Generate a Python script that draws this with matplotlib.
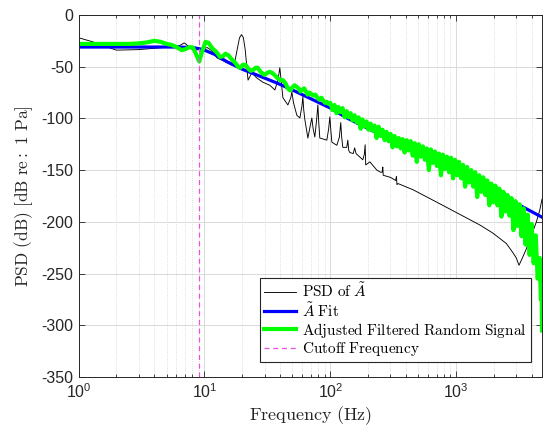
import matplotlib
matplotlib.use('Agg')
import matplotlib.pyplot as plt
from matplotlib.ticker import LogLocator, NullFormatter

# --- Data ---
CUTOFF_HZ = 9.0

# PSD of A~ (thin black)
psd_freq = [1, 1.3, 1.6, 2.0, 3.0, 4.2, 5.2, 6.0, 6.5, 6.9, 7.2, 7.6, 8.4, 9.5, 10.5, 11.3,
            12.6, 14.5, 16.5, 17.5, 18.3, 19.0, 19.7, 20.4, 21.1, 22.2, 23.8, 26.1, 29.1,
            33.1, 36.3, 38.5, 39.7, 40.8, 42, 46, 48.5, 49.5, 51, 54.2, 57.3, 59.5, 60.5,
            61.5, 62.8, 66.3, 69, 71.3, 73, 75.3, 78, 79.6, 81, 82.5, 93.8, 97, 99.1, 101,
            102.8, 112.7, 118, 121, 123, 125.6, 135, 137.6, 140, 142.8, 152, 156, 160, 165,
            181, 186, 189, 191, 206, 234, 250, 258, 261, 263, 300, 330, 335, 338, 345, 454,
            780, 1537, 1960, 2502, 2825, 3000, 3150, 3350, 3606, 3953, 4330, 4600, 4800]
psd_db = [-22, -26, -30, -34, -33.5, -32, -31, -30.5, -29, -27, -28.5, -32, -34, -33, -31.5, -34,
          -41.5, -45, -48.5, -44, -32, -22, -19, -22, -34, -63, -56, -61, -65,
          -68, -72.5, -62, -51, -65, -80, -87, -80, -74.5, -85, -97, -99.6, -88, -79,
          -92, -101.5, -119, -108, -99.6, -110, -118, -100, -87, -105, -119, -121, -110, -98.6, -112,
          -123, -126, -118, -104, -118, -128, -128, -121, -131, -133, -134, -128.5, -134, -135.5,
          -140, -135, -125.5, -145, -142, -150, -152, -152, -147, -155, -157, -160, -156, -164, -163, -169,
          -184, -203, -211, -221, -230, -235, -242, -235, -226, -213, -200, -189, -178]

# A~ fit (thick blue)
fit_freq = [1, 2, 4, 6, 8, 9, 10, 12, 15, 20, 28, 38, 50, 70, 100, 135, 234, 400, 617,
            1000, 1500, 2000, 3190, 4800]
fit_db = [-31, -31, -31, -31, -31.5, -32.5, -34, -38, -45, -52.5, -59.5, -66, -72.5, -81, -90,
          -99.5, -114, -128.5, -140, -153, -164, -171.5, -184, -195.5]

# Adjusted filtered random signal (thick green)
sig_freq = [1, 1.5, 2, 2.5, 3, 3.5, 4, 4.5, 5, 5.5, 6, 6.6, 7.1, 7.6, 8.1, 8.6, 9.1, 9.6,
            10.2, 10.8, 11.5, 12.5, 13.3, 14, 14.7, 15.5, 16.5, 17.5, 18.5, 19.3, 20.3, 21.3,
            22.3, 23.3, 24.5, 25.5, 26.5, 27.5, 28.5, 30, 31.5, 33, 34.5, 36, 38, 40, 42, 44,
            46, 48, 50, 52, 54, 56, 58, 60, 62, 64, 66, 68, 70, 73, 76, 79, 82, 85, 88, 91,
            94, 97,
            100, 104, 108, 112, 116, 120, 125, 130, 135, 140, 145, 150, 156, 162, 168, 174,
            180, 187, 194, 201, 209, 217, 225, 233, 242, 251, 260, 270, 280, 290, 301, 312,
            324, 336, 349, 362, 375, 389, 404, 419, 435, 451, 468, 486, 504, 523, 543, 563,
            584, 606, 629, 652, 677, 702, 729, 756, 784, 814, 844, 876, 909, 943, 978, 1015,
            1053, 1093, 1134, 1176, 1220, 1266, 1314, 1363, 1414, 1467, 1522, 1580, 1639,
            1700, 1764, 1831, 1899, 1971, 2045, 2121, 2201, 2284, 2369, 2458, 2551, 2647,
            2746, 2849, 2956, 3067, 3182, 3302, 3426, 3554, 3688, 3826, 3970, 4119, 4274,
            4434, 4600, 4700, 4770, 4800]
sig_db = [-28, -28, -28, -28, -27.5, -26.5, -25, -26, -28, -29, -31, -34, -33, -31, -31.5, -38, -45, -35,
          -26, -27, -32, -36, -40.5, -40, -37.5, -39, -43, -46, -50, -51, -48, -48.5,
          -52, -54, -53, -51, -51, -54, -56, -58, -56, -55, -56, -58, -61, -63, -63, -66,
          -71, -73, -70, -68, -69.5, -71, -74, -72, -71, -74, -77, -75, -76, -78, -77, -80, -82, -80, -83, -85,
          -84, -86,
          -85, -92, -87, -95, -89, -94, -90, -99, -93, -99, -95, -102, -97, -104, -99, -110,
          -101, -108, -103, -111, -105, -112, -107, -119, -108, -117, -111, -121, -113, -122, -115, -128,
          -117, -127, -119, -129, -120, -133, -121, -131, -122, -136, -124, -142, -125, -137, -127, -140,
          -129, -150, -130, -143, -132, -146, -134, -155, -135, -149, -137, -152, -138, -158, -140, -155,
          -142, -158, -145, -166, -147, -162, -150, -166, -152, -176, -155, -171, -157,
          -174, -160, -184, -163, -181, -165, -184, -168, -195, -171, -190, -174, -194,
          -177, -208, -180, -204, -183, -214, -187, -222, -193, -232, -202, -240, -213,
          -255, -235, -275, -268, -305]

x_ticks = [1, 10, 100, 1000]
y_ticks = [0, -50, -100, -150, -200, -250, -300, -350]
legend_labels = [r'$\mathrm{PSD\ of\ }\tilde{A}$',
                 r'$\tilde{A}\ \mathrm{Fit}$',
                 r'$\mathrm{Adjusted\ Filtered\ Random\ Signal}$',
                 r'$\mathrm{Cutoff\ Frequency}$']

AXIS_COLOR = '#262626'


def make_plot(out_path='out.png'):
    plt.rcParams['font.family'] = ['Liberation Sans', 'DejaVu Sans']
    plt.rcParams['mathtext.fontset'] = 'cm'
    plt.rcParams['axes.unicode_minus'] = False

    fig = plt.figure(figsize=(5.43, 4.30), dpi=100)
    ax = fig.add_axes([0.1446, 0.1233, 0.8536, 0.8419])

    ax.semilogx(psd_freq, psd_db, color='black', lw=0.65, label=legend_labels[0])
    ax.semilogx(fit_freq, fit_db, color='#0000ff', lw=2.3, label=legend_labels[1])
    ax.semilogx(sig_freq, sig_db, color='#00ff00', lw=3.0, label=legend_labels[2])
    ax.axvline(CUTOFF_HZ, color='#e650e6', ls=(0, (4, 3)), lw=0.9, label=legend_labels[3])

    ax.set_xlim(1, 4800)
    ax.set_ylim(-350, 0)
    ax.set_xticks(x_ticks)
    ax.set_yticks(y_ticks)
    ax.xaxis.set_minor_locator(LogLocator(base=10, subs=range(2, 10)))
    ax.xaxis.set_minor_formatter(NullFormatter())

    # MATLAB-like box: ticks inside on all four sides
    ax.tick_params(which='both', direction='in', top=True, right=True,
                   width=0.6, color=AXIS_COLOR, labelcolor=AXIS_COLOR, labelsize=11.5)
    ax.tick_params(which='major', length=4)
    ax.tick_params(which='minor', length=2.5)
    ax.tick_params(axis='y', pad=4)
    ax.tick_params(axis='x', pad=4)
    for sp in ax.spines.values():
        sp.set_color(AXIS_COLOR)
        sp.set_linewidth(0.7)

    ax.set_axisbelow(True)
    ax.grid(True, which='major', color='#d4d4d4', lw=0.6, ls='-')
    ax.grid(True, which='minor', axis='x', color='#d4d4d4', lw=0.6, ls=':')

    ax.set_xlabel(r'$\mathrm{Frequency\ (Hz)}$', fontsize=13, color=AXIS_COLOR, labelpad=2)
    ax.set_ylabel(r'$\mathrm{PSD\ (dB)\ [dB\ re{:}\ 1\ Pa]}$', fontsize=12.5, color=AXIS_COLOR,
                  labelpad=4)

    leg = ax.legend(loc='lower right', bbox_to_anchor=(0.976, 0.041), borderaxespad=0,
                    fontsize=11, frameon=True, fancybox=False, edgecolor=AXIS_COLOR,
                    framealpha=1, handlelength=2.1, handletextpad=0.4, labelspacing=0.05,
                    borderpad=0.25)
    leg.get_frame().set_linewidth(0.8)

    fig.savefig(out_path, dpi=100)
    plt.close(fig)


if __name__ == '__main__':
    make_plot()
